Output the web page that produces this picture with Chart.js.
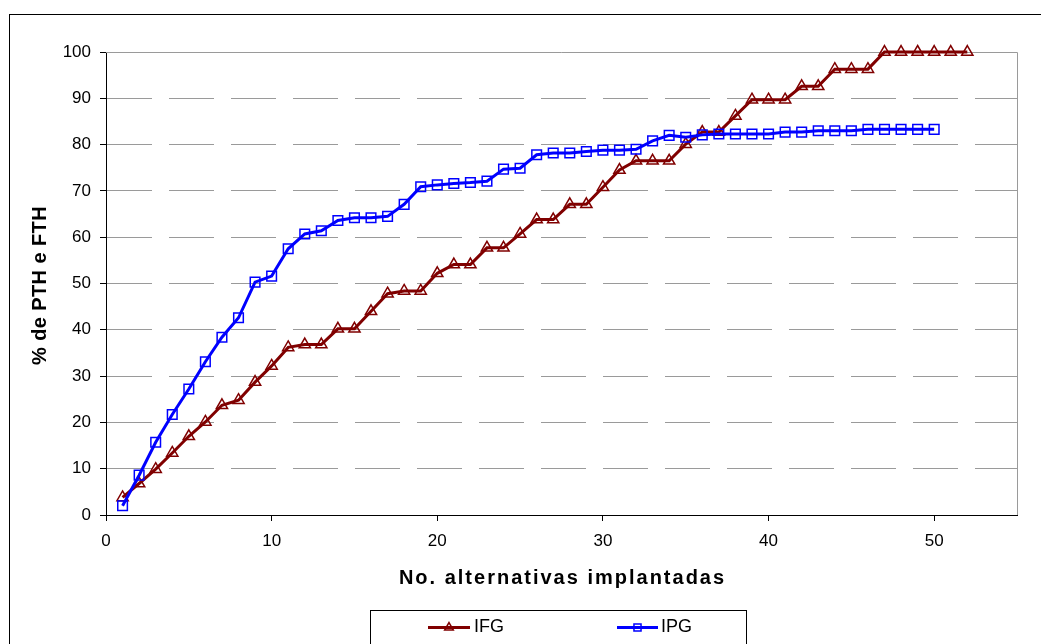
<!DOCTYPE html>
<html>
<head>
<meta charset="utf-8">
<script src="https://cdn.jsdelivr.net/npm/chart.js@4.4.0/dist/chart.umd.min.js"></script>
<style>
html,body{margin:0;padding:0;background:#ffffff;}
#wrap{width:1041px;height:644px;position:relative;}
</style>
</head>
<body>
<div id="wrap"><canvas id="c" width="1041" height="644"></canvas></div>
<script>
// ---- data ----
const alternativasIFG = [1,2,3,4,5,6,7,8,9,10,11,12,13,14,15,16,17,18,19,20,21,22,23,24,25,26,27,28,29,30,31,32,33,34,35,36,37,38,39,40,41,42,43,44,45,46,47,48,49,50,51,52];
const valoresIFG = [3.8,6.8,9.9,13.4,17.0,20.1,23.7,24.8,28.7,32.2,36.2,36.8,36.8,40.2,40.2,44.0,47.8,48.4,48.4,52.2,54.1,54.1,57.7,57.7,60.7,63.8,63.8,67.1,67.1,70.8,74.5,76.5,76.5,76.5,80.1,82.7,82.7,86.2,89.7,89.7,89.7,92.6,92.6,96.3,96.3,96.3,100,100,100,100,100,100];
const alternativasIPG = [1,2,3,4,5,6,7,8,9,10,11,12,13,14,15,16,17,18,19,20,21,22,23,24,25,26,27,28,29,30,31,32,33,34,35,36,37,38,39,40,41,42,43,44,45,46,47,48,49,50];
const valoresIPG = [2.0,8.6,15.7,21.7,27.2,33.1,38.4,42.6,50.3,51.6,57.5,60.7,61.4,63.6,64.2,64.2,64.5,67.1,70.9,71.3,71.6,71.8,72.1,74.7,74.9,77.8,78.2,78.2,78.5,78.8,78.8,79.0,80.8,82.0,81.6,82.1,82.3,82.3,82.3,82.3,82.7,82.7,83.0,83.0,83.0,83.3,83.3,83.3,83.3,83.3];
const seriesNames = ['IFG','IPG'];
const xTickStep = 10;
const xMax = 55;
const yTickStep = 10;
const yMax = 100;
const xTitle = 'No. alternativas implantadas';
const yTitle = '% de PTH e FTH';

const FONT = '"Liberation Sans", Arial, sans-serif';
const RED = '#800000';
const BLUE = '#0000ff';

function pts(xs, ys){ return xs.map((x,i)=>({x:x, y:ys[i]})); }

function drawMarker(ctx, style, color, x, y, r){
  ctx.save();
  ctx.strokeStyle = color; ctx.lineWidth = 1.5;
  ctx.beginPath();
  if(style === 'triangle'){
    const w = r*Math.sqrt(3)/2;
    ctx.moveTo(x, y - r);
    ctx.lineTo(x + w, y + r/2);
    ctx.lineTo(x - w, y + r/2);
    ctx.closePath();
  } else {
    const s = r*Math.SQRT1_2;
    ctx.rect(x - s, y - s, 2*s, 2*s);
  }
  ctx.stroke();
  ctx.restore();
}

const decor = {
  id:'decor',
  beforeDatasetsDraw(chart){
    const ctx = chart.ctx, a = chart.chartArea;
    ctx.save();
    ctx.strokeStyle = '#9a9a9a'; ctx.lineWidth = 1;
    ctx.beginPath();
    ctx.moveTo(a.left, Math.round(a.top)+0.5);
    ctx.lineTo(Math.round(a.right)+0.5, Math.round(a.top)+0.5);
    ctx.lineTo(Math.round(a.right)+0.5, a.bottom);
    ctx.stroke();
    ctx.restore();
  },
  afterDraw(chart){
    const ctx = chart.ctx, a = chart.chartArea;
    ctx.save();
    // outer chart border
    ctx.strokeStyle = '#000'; ctx.lineWidth = 1;
    ctx.strokeRect(9.5, 14.5, 1200, 800);
    // axis titles
    ctx.fillStyle = '#000';
    ctx.font = 'bold 20px ' + FONT;
    ctx.textAlign = 'center'; ctx.textBaseline = 'middle';
    ctx.save();
    try { ctx.letterSpacing = '2px'; } catch(e) {}
    ctx.fillText(xTitle, (a.left + a.right)/2 + 1, 578);
    ctx.restore();
    ctx.save();
    ctx.translate(40, (a.top + a.bottom)/2 + 2);
    ctx.rotate(-Math.PI/2);
    try { ctx.letterSpacing = '0.4px'; } catch(e) {}
    ctx.fillText(yTitle, 0, 0);
    ctx.restore();
    // legend
    ctx.strokeStyle = '#000'; ctx.lineWidth = 1;
    ctx.strokeRect(370.5, 610.5, 376, 100);
    const items = [
      {name: seriesNames[0], color: RED, style:'triangle', x0:428, x1:470, tx:474},
      {name: seriesNames[1], color: BLUE, style:'rect', x0:617, x1:658, tx:661}
    ];
    const ly = 627.5;
    items.forEach(it=>{
      ctx.strokeStyle = it.color; ctx.lineWidth = 3;
      ctx.beginPath(); ctx.moveTo(it.x0, ly); ctx.lineTo(it.x1, ly); ctx.stroke();
      drawMarker(ctx, it.style, it.color, (it.x0+it.x1)/2, ly, 5);
      ctx.fillStyle = '#000';
      ctx.font = '18px ' + FONT;
      ctx.textAlign = 'left'; ctx.textBaseline = 'middle';
      ctx.fillText(it.name, it.tx, ly);
    });
    ctx.restore();
  }
};

new Chart(document.getElementById('c'), {
  type:'line',
  data:{
    datasets:[
      {label: seriesNames[0], data: pts(alternativasIFG, valoresIFG), order: 1,
       borderColor: RED, borderWidth: 3, tension: 0, fill:false,
       pointStyle:'triangle', pointRadius: 6.5, pointBorderWidth: 1.5,
       pointBorderColor: RED, pointBackgroundColor:'rgba(0,0,0,0)', clip:false},
      {label: seriesNames[1], data: pts(alternativasIPG, valoresIPG), order: 0,
       borderColor: BLUE, borderWidth: 3, tension: 0, fill:false,
       pointStyle:'rect', pointRadius: 6.8, pointBorderWidth: 1.5,
       pointBorderColor: BLUE, pointBackgroundColor:'rgba(0,0,0,0)', clip:false}
    ]
  },
  options:{
    responsive:false,
    animation:false,
    devicePixelRatio:1,
    layout:{padding:{top:52, right:24, left:0, bottom:0}},
    plugins:{legend:{display:false}, tooltip:{enabled:false}},
    scales:{
      x:{
        type:'linear', min:0, max:xMax,
        afterFit(s){ s.height = 129; },
        ticks:{stepSize:xTickStep, includeBounds:false, color:'#000', font:{family:FONT, size:17}, padding:10, maxRotation:0},
        grid:{drawOnChartArea:false, tickLength:6, tickColor:'#000', color:'#000'},
        border:{color:'#000', width:1}
      },
      y:{
        min:0, max:yMax,
        afterFit(s){ s.width = 106; },
        ticks:{stepSize:yTickStep, color:'#000', font:{family:FONT, size:17}, padding:9},
        grid:{
          color:(c)=> (c.tick && (c.tick.value===0 || c.tick.value===yMax)) ? 'rgba(0,0,0,0)' : '#9a9a9a',
          tickColor:'#000', tickLength:6, lineWidth:1
        },
        border:{color:'#000', width:1, dash:[45,17]}
      }
    }
  },
  plugins:[decor]
});
</script>
</body>
</html>
